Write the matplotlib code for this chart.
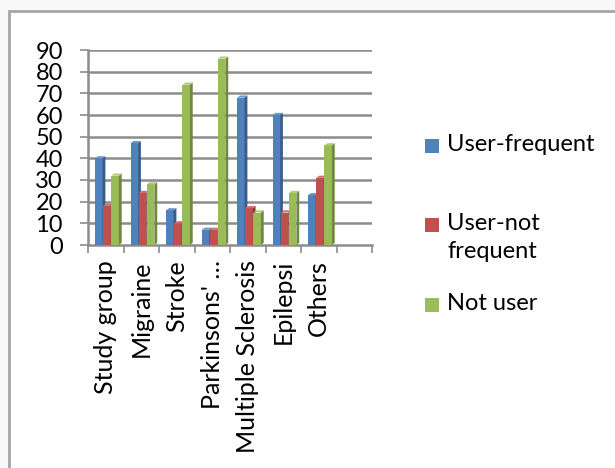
import matplotlib.pyplot as plt
from matplotlib.patches import Rectangle

categories = ["Study group", "Migraine", "Stroke", "Parkinsons' …",
              "Multiple Sclerosis", "Epilepsi", "Others"]
user_frequent = [40, 47, 16, 7, 68, 60, 23]
user_not_frequent = [18, 24, 10, 7, 17, 15, 31]
not_user = [32, 28, 74, 86, 15, 24, 46]
series_names = ["User-frequent", "User-not\nfrequent", "Not user"]

face_colors = ["#4F81BD", "#C0504D", "#9BBB59"]
side_colors = ["#385D8A", "#8C3836", "#71893F"]
top_colors = ["#6E97CB", "#D06F6C", "#B2CC7B"]

plt.rcParams["font.family"] = ["Lato", "DejaVu Sans"]

W, H = 615, 468
fig = plt.figure(figsize=(W / 100, H / 100), dpi=100)
fig.patch.set_facecolor("#f7f8fa")
# chart frame
fig.patches.append(Rectangle((9 / W, -0.05), 1.1, 1 - 11 / H + 0.05,
                             transform=fig.transFigure, facecolor="white",
                             edgecolor="#a6a6a6", linewidth=2, zorder=-5))

ax = fig.add_axes([88 / W, 1 - 245 / H, (372 - 88) / W, (245 - 50) / H])
ax.set_facecolor("none")
ax.set_xlim(-0.5, 7.5)
ax.set_ylim(0, 90)

# horizontal grid on the back wall
for v in range(10, 100, 10):
    ax.plot([-0.5, 7.5], [v, v], color="#8c8c8c", lw=1.8, zorder=1,
            solid_capstyle="butt")

bar_w = 0.21
depth_x = 0.08
depth_y = 1.0
offsets = [-0.3, -0.07, 0.16]


def bar3d(x, h, k):
    # front face, side face and top face of one bar
    ax.bar(x, h, width=bar_w, align="edge", color=face_colors[k],
           linewidth=0, zorder=3)
    ax.fill([x + bar_w, x + bar_w + depth_x, x + bar_w + depth_x, x + bar_w],
            [0, depth_y, h + depth_y, h], color=side_colors[k], lw=0, zorder=3)
    ax.fill([x, x + depth_x, x + bar_w + depth_x, x + bar_w],
            [h, h + depth_y, h + depth_y, h], color=top_colors[k], lw=0, zorder=3)


for k, values in enumerate([user_frequent, user_not_frequent, not_user]):
    for i, h in enumerate(values):
        bar3d(i + offsets[k], h, k)

for s in ["top", "right"]:
    ax.spines[s].set_visible(False)
for s in ["left", "bottom"]:
    ax.spines[s].set_color("#8c8c8c")
    ax.spines[s].set_linewidth(1.8)

ax.set_yticks(range(0, 100, 10))
ax.tick_params(axis="y", colors="#8c8c8c", length=6, width=1.2, labelsize=17,
               labelcolor="black", pad=12)
ax.set_xticks([x - 0.5 for x in range(9)])
ax.set_xticklabels([])
ax.tick_params(axis="x", colors="#8c8c8c", length=6, width=1.2)
for i, name in enumerate(categories):
    ax.text(i, -7, name, rotation=90, ha="center", va="top", fontsize=18)

# legend
legend_y = [146, 225, 305]
for k, name in enumerate(series_names):
    y = 1 - legend_y[k] / H
    fig.patches.append(Rectangle((425 / W, y - 7 / H), 14 / W, 14 / H,
                                 transform=fig.transFigure,
                                 facecolor=face_colors[k], lw=0))
    fig.text(447 / W, y + 12 / H, name, fontsize=17, va="top", ha="left",
             linespacing=1.4)

fig.savefig("out.png", dpi=100, facecolor=fig.get_facecolor())
